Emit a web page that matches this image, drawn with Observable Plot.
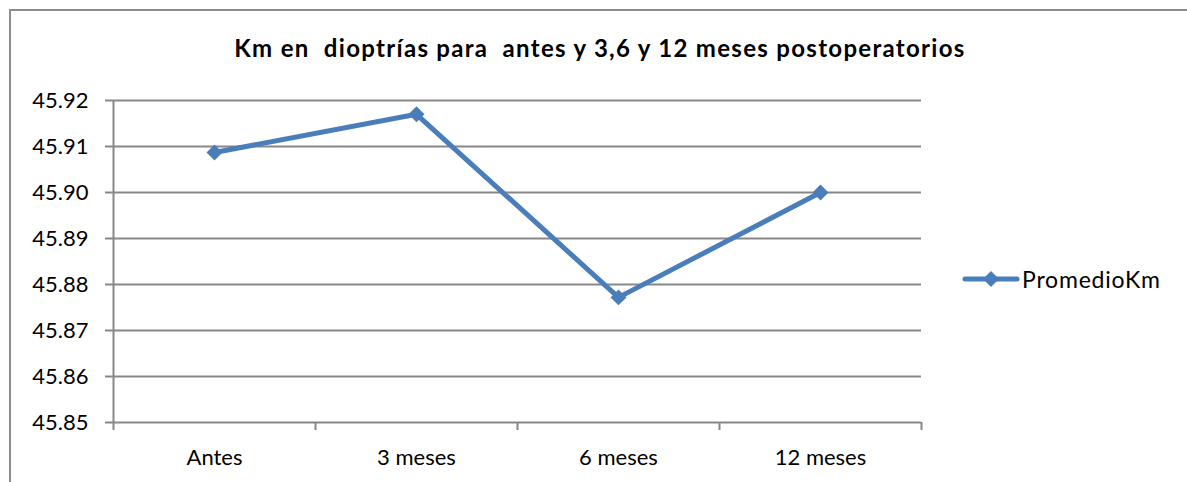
<!DOCTYPE html>
<html><head><meta charset="utf-8">
<script src="https://cdn.jsdelivr.net/npm/d3@7"></script>
<script src="https://cdn.jsdelivr.net/npm/@observablehq/plot@0.6"></script>
<style>
body{margin:0;background:#fff;}
#wrap{position:relative;width:1187px;height:482px;overflow:hidden;font-family:Lato,"Open Sans",sans-serif;color:#000;}
#border{position:absolute;left:9px;top:9px;width:1400px;height:700px;border:2px solid #8c8c8c;box-sizing:border-box;}
#title{position:absolute;top:33px;left:0;width:1200px;text-align:center;font-weight:bold;font-size:24px;letter-spacing:1.3px;white-space:pre;}
#chart{position:absolute;left:0;top:0;}
#legend{position:absolute;left:962px;top:265px;display:flex;align-items:center;font-size:23px;letter-spacing:0.8px;}
</style></head>
<body>
<div id="wrap">
  <div id="border"></div>
  <div id="chart"></div>
  <div id="title"></div>
  <div id="legend"></div>
</div>
<script>
const title = "Km en  dioptrías para  antes y 3,6 y 12 meses postoperatorios";
const seriesName = "PromedioKm";
const categories = ["Antes", "3 meses", "6 meses", "12 meses"];
const values = [45.9087, 45.9170, 45.8772, 45.9000];
const yTicks = [45.85, 45.86, 45.87, 45.88, 45.89, 45.90, 45.91, 45.92];

const lineColor = "#4A7EBB";
const gridColor = "#878787";

const data = categories.map((c, i) => ({cat: c, pos: i + 0.5, value: values[i]}));
const boundaries = d3.range(categories.length + 1);
const centers = categories.map((c, i) => i + 0.5);

const chart = Plot.plot({
  width: 1187,
  height: 482,
  marginLeft: 113,
  marginRight: 266,
  marginTop: 100,
  marginBottom: 60,
  style: {fontFamily: "Lato, 'Open Sans', sans-serif", fontSize: "22px", color: "#000", background: "transparent", overflow: "visible"},
  x: {type: "linear", domain: [0, categories.length]},
  y: {domain: [45.85, 45.92]},
  marks: [
    Plot.gridY(yTicks, {stroke: gridColor, strokeOpacity: 1, strokeWidth: 2}),
    Plot.ruleX([0], {stroke: gridColor, strokeWidth: 2}),
    Plot.axisY(yTicks, {tickFormat: d3.format(".2f"), tickSize: 8, tickPadding: 17, stroke: gridColor, strokeWidth: 2, fontSize: 22, fill: "#000", label: null}),
    Plot.axisX(boundaries, {tickFormat: () => "", tickSize: 8, stroke: gridColor, strokeWidth: 2, label: null}),
    Plot.axisX(centers, {tickFormat: d => categories[Math.round(d - 0.5)], tickSize: 0, tickPadding: 27, fontSize: 22, fill: "#000", label: null}),
    Plot.line(data, {x: "pos", y: "value", stroke: lineColor, strokeWidth: 5}),
    Plot.dot(data, {x: "pos", y: "value", symbol: "diamond2", r: 7.2, fill: lineColor, stroke: null})
  ]
});
document.getElementById("chart").appendChild(chart);
document.getElementById("title").textContent = title;

const legend = document.getElementById("legend");
legend.innerHTML = `<svg width="58" height="20" style="margin-right:2px"><line x1="3" y1="10" x2="55" y2="10" stroke="${lineColor}" stroke-width="5" stroke-linecap="round"/><path d="M29 2 L37 10 L29 18 L21 10 Z" fill="${lineColor}"/></svg><span>${seriesName}</span>`;
</script>
</body></html>
